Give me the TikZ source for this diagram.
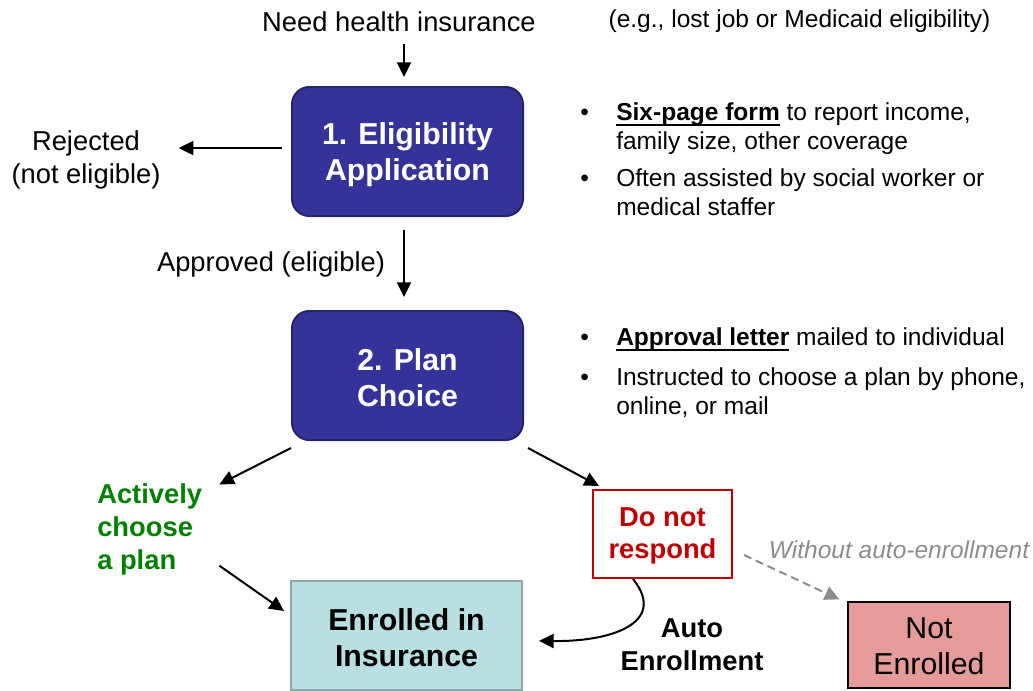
\documentclass[tikz,border=0pt]{standalone}
\usepackage{fontspec}
\setmainfont{Liberation Sans}
\usetikzlibrary{arrows.meta}
\definecolor{boxblue}{RGB}{51,51,153}
\definecolor{boxblueline}{RGB}{36,36,105}
\definecolor{enrfill}{RGB}{185,223,226}
\definecolor{enrline}{RGB}{142,168,170}
\definecolor{nefill}{RGB}{230,155,155}
\definecolor{dred}{RGB}{192,0,0}
\definecolor{dgreen}{RGB}{0,128,0}
\definecolor{lgray}{RGB}{140,140,140}
\newcommand\fsS{\fontsize{18.4pt}{21.75pt}\selectfont}
\newcommand\fsM{\fontsize{20.5pt}{24.75pt}\selectfont}
\newcommand\fsL{\fontsize{22.7pt}{27pt}\selectfont}
\newcommand\myul[1]{\setbox0\hbox{#1}\rlap{\vrule height -2.25pt depth 3.75pt width \wd0}\box0}
\begin{document}
\begin{tikzpicture}[x=0.75pt,y=-0.75pt,
  arrtip/.style={-{Triangle[length=11pt,width=10.5pt]}},
  arr/.style={line width=1.5pt,arrtip},
  txt/.style={inner sep=0pt,align=center},
  bluebox/.style={draw=boxblueline,fill=boxblue,line width=1.5pt,rounded corners=13pt,
    minimum width=173.25pt,minimum height=96.75pt,inner sep=0pt},
  bluetext/.style={txt,text=white,font=\fsL\bfseries},
  bul/.style={inner sep=0pt,anchor=base west,font=\fsS},
]
\useasboundingbox (0,0) rectangle (1033,690);

% top texts
\node[txt,font=\fsM] (need) at (399,21.5) {Need health insurance};
\node[txt,font=\fsS] (eg) at (799.5,21.5) {(e.g., lost job or Medicaid eligibility)};

% main boxes
\node[bluebox] (box1) at (407.5,151.5) {};
\node[bluetext] (box1t) at (407.5,154.5) {1. Eligibility\\Application};
\node[bluebox] (box2) at (407.5,375.5) {};
\node[bluetext] (box2t) at (407.5,378) {2. Plan\\Choice};
\node[draw=enrline,fill=enrfill,line width=1.5pt,minimum width=173.25pt,minimum height=81.75pt,inner sep=0pt] (enr) at (406.5,635.5) {};
\node[txt,font=\fsL\bfseries] (enrt) at (406.5,637.5) {Enrolled in\\Insurance};
\node[draw=dred,fill=white,line width=1.5pt,minimum width=104.25pt,minimum height=66pt,inner sep=0pt] (dnr) at (662.5,534) {};
\node[txt,text=dred,font={\fontsize{20.5pt}{24pt}\selectfont\bfseries}] (dnrt) at (662.5,535.5) {Do not\\respond};
\node[draw=black,fill=nefill,line width=0.9pt,minimum width=121.5pt,minimum height=64.5pt,inner sep=0pt] (noten) at (929,645) {};
\node[txt,font=\fsL] (notent) at (929,646.5) {Not\\Enrolled};

% side labels
\node[txt,font=\fsM] (rej) at (86,159.5) {Rejected\\(not eligible)};
\node[txt,font=\fsM] (appr) at (271,264.5) {Approved (eligible)};
\node[inner sep=0pt,align=left,anchor=west,text=dgreen,font=\fsM\bfseries] (act) at (97,529) {Actively\\choose\\a plan};
\node[txt,font=\fsM\bfseries] (auto) at (692,644.5) {Auto\\Enrollment};
\node[txt,font=\fsS\itshape,text=lgray] (wo) at (899,550) {Without auto-enrollment};

% bullets
\node[bul] (b1) at (580,120.5) {•};
\node[bul] (t1a) at (616,120.5) {\bfseries\myul{Six-page form}\mdseries{} to report income,};
\node[bul] (t1b) at (616,149.5) {family size, other coverage};
\node[bul] (b2) at (580,186.5) {•};
\node[bul] (t2a) at (616,186.5) {Often assisted by social worker or};
\node[bul] (t2b) at (616,215.5) {medical staffer};
\node[bul] (b3) at (580,345.5) {•};
\node[bul] (t3a) at (616,345.5) {\bfseries\myul{Approval letter}\mdseries{} mailed to individual};
\node[bul] (b4) at (580,385.5) {•};
\node[bul] (t4a) at (616,385.5) {Instructed to choose a plan by phone,};
\node[bul] (t4b) at (616,414.5) {online, or mail};

% connectors
\draw[arr,shorten <=9pt,shorten >=6.75pt] ([xshift=-2.6pt]need.south -| box1.north) -- ([xshift=-2.6pt]box1.north);
\draw[arr,shorten <=6.75pt,shorten >=13.5pt] ([yshift=2.6pt]box1.west) -- ([yshift=2.6pt]box1.west -| rej.east);
\draw[arr,shorten <=9.75pt,shorten >=9.75pt] ([xshift=-2.6pt]box1.south) -- ([xshift=-2.6pt]box2.north);
\draw[arr] ([yshift=-5.25pt]box2.south west) -- ([xshift=12.75pt,yshift=-1pt]act.north east);
\draw[arr] ([xshift=3pt,yshift=-5.25pt]box2.south east) -- ([xshift=5.25pt,yshift=2.25pt]dnr.north west);
\draw[arr] ([xshift=12.75pt,yshift=7pt]act.south east) -- ([xshift=-4.5pt,yshift=-23.25pt]enr.north west);
\draw[arr] ([xshift=-22.1pt]dnr.south) .. controls +(35,44) and +(72,1) .. ([xshift=12pt,yshift=-4pt]enr.east);
\draw[line width=1.5pt,lgray,dash pattern=on 6pt off 3.75pt,arrtip] ([xshift=8.25pt,yshift=-15.75pt]dnr.east) -- ([xshift=-6pt,yshift=1.5pt]noten.north west);
\end{tikzpicture}
\end{document}
